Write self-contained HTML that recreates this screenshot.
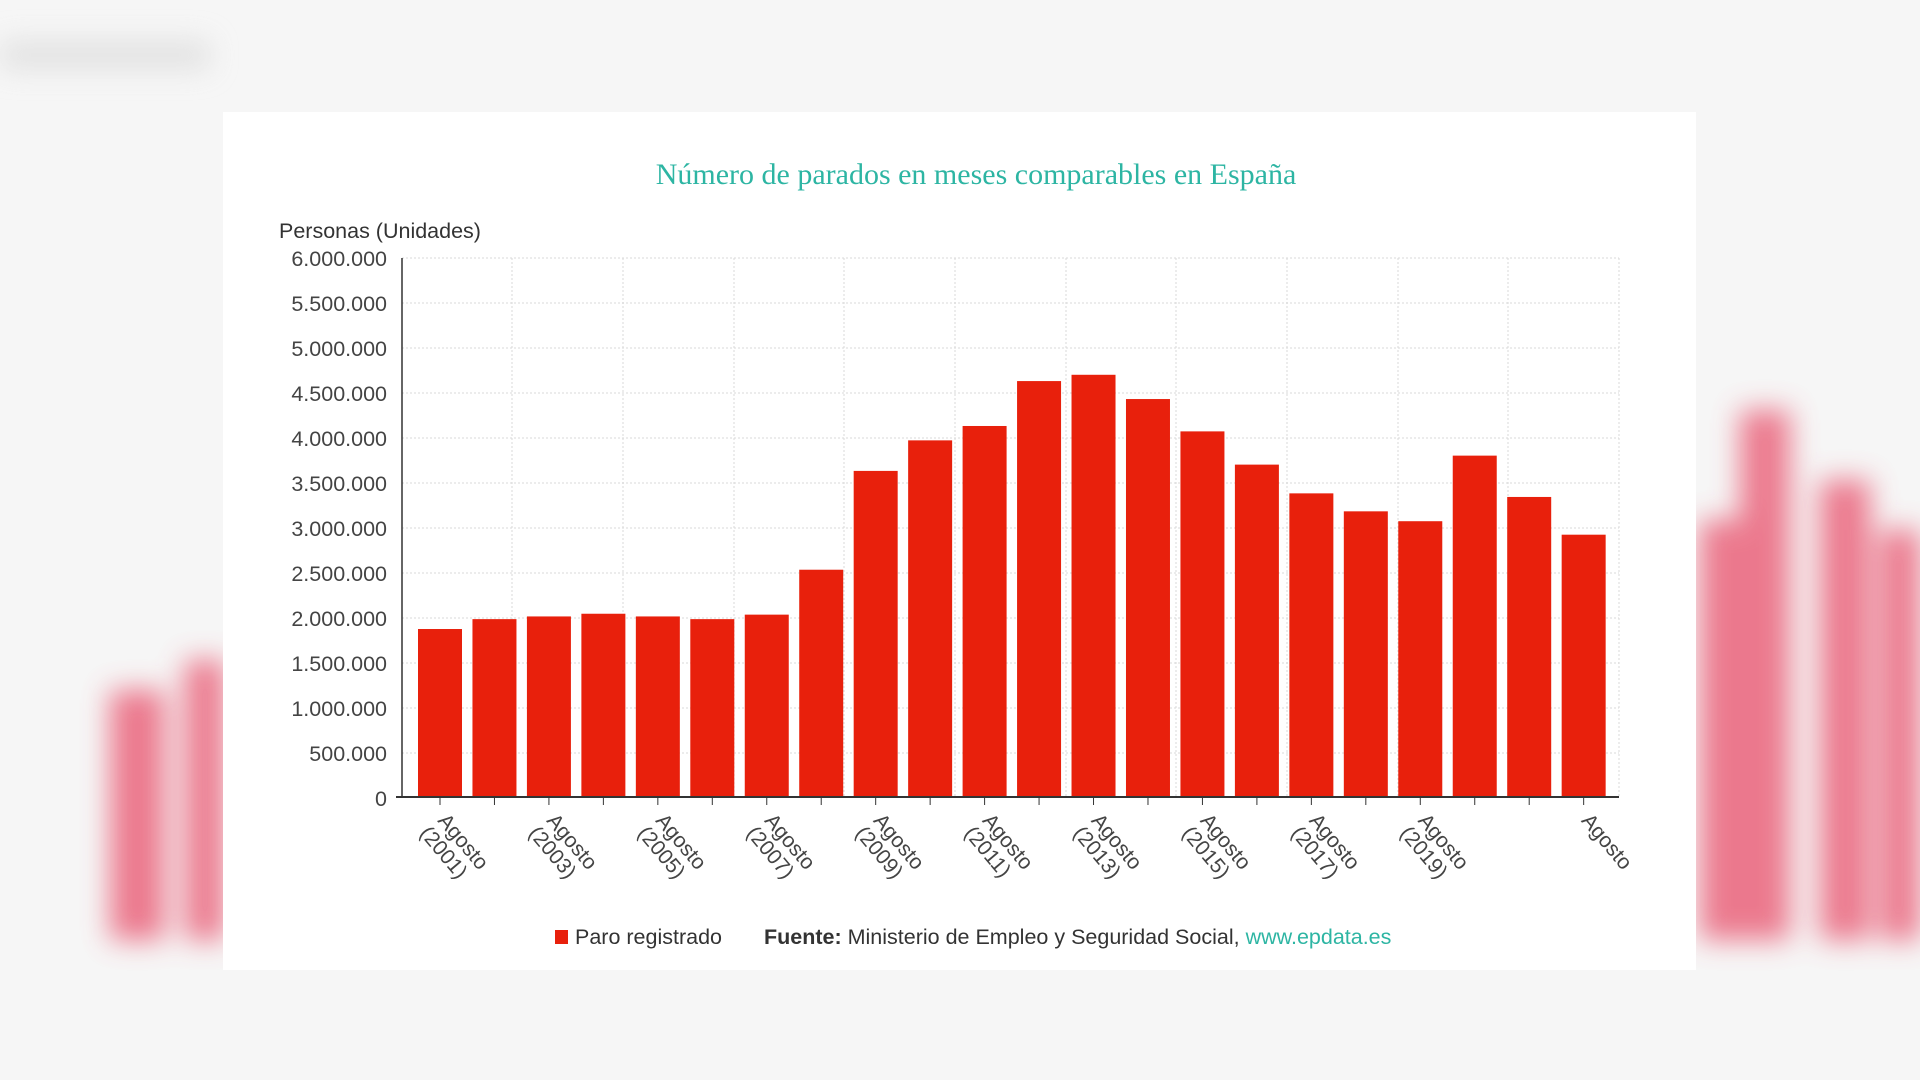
<!DOCTYPE html>
<html><head><meta charset="utf-8"><style>
html,body{margin:0;padding:0;width:1920px;height:1080px;overflow:hidden;background:#f6f6f6;}
svg{display:block}
</style></head><body>
<svg width="1920" height="1080" viewBox="0 0 1920 1080" xmlns="http://www.w3.org/2000/svg" font-family="Liberation Sans, sans-serif">
<defs><filter id="b" x="-50%" y="-50%" width="200%" height="200%"><feGaussianBlur stdDeviation="14"/></filter></defs>
<rect width="1920" height="1080" fill="#f6f6f6"/>
<g filter="url(#b)" opacity="0.75">
<rect x="110" y="690" width="55" height="250" fill="#e8506a"/>
<rect x="185" y="660" width="40" height="280" fill="#e8506a"/>
<rect x="1700" y="520" width="45" height="420" fill="#e8506a"/>
<rect x="1740" y="410" width="50" height="530" fill="#e8506a"/>
<rect x="1820" y="480" width="50" height="460" fill="#e8506a"/>
<rect x="1880" y="530" width="40" height="410" fill="#e8506a"/>
<rect x="0" y="40" width="210" height="30" fill="#dcdcdc"/>
</g>
<rect x="223" y="112" width="1473" height="858" fill="#fff"/>
<text x="976" y="184" text-anchor="middle" font-family="Liberation Serif, serif" font-size="30" fill="#2db5a3">Número de parados en meses comparables en España</text>
<text x="279" y="238" font-size="21.5" fill="#333">Personas (Unidades)</text>
<g stroke="#d8d8d8" stroke-dasharray="2,2" stroke-width="1">
<line x1="402" x2="1619" y1="258" y2="258"/><line x1="402" x2="1619" y1="303" y2="303"/>
<line x1="402" x2="1619" y1="348" y2="348"/><line x1="402" x2="1619" y1="393" y2="393"/>
<line x1="402" x2="1619" y1="438" y2="438"/><line x1="402" x2="1619" y1="483" y2="483"/>
<line x1="402" x2="1619" y1="528" y2="528"/><line x1="402" x2="1619" y1="573" y2="573"/>
<line x1="402" x2="1619" y1="618" y2="618"/><line x1="402" x2="1619" y1="663" y2="663"/>
<line x1="402" x2="1619" y1="708" y2="708"/><line x1="402" x2="1619" y1="753" y2="753"/>
<line x1="512" x2="512" y1="258" y2="797"/><line x1="623" x2="623" y1="258" y2="797"/>
<line x1="734" x2="734" y1="258" y2="797"/><line x1="844" x2="844" y1="258" y2="797"/>
<line x1="955" x2="955" y1="258" y2="797"/><line x1="1066" x2="1066" y1="258" y2="797"/>
<line x1="1176" x2="1176" y1="258" y2="797"/><line x1="1287" x2="1287" y1="258" y2="797"/>
<line x1="1398" x2="1398" y1="258" y2="797"/><line x1="1508" x2="1508" y1="258" y2="797"/>
<line x1="1619" x2="1619" y1="258" y2="797"/>
</g>
<g font-size="21.5" fill="#444" text-anchor="end">
<text x="387" y="266">6.000.000</text><text x="387" y="311">5.500.000</text>
<text x="387" y="356">5.000.000</text><text x="387" y="401">4.500.000</text>
<text x="387" y="446">4.000.000</text><text x="387" y="491">3.500.000</text>
<text x="387" y="536">3.000.000</text><text x="387" y="581">2.500.000</text>
<text x="387" y="626">2.000.000</text><text x="387" y="671">1.500.000</text>
<text x="387" y="716">1.000.000</text><text x="387" y="761">500.000</text>
<text x="387" y="806">0</text>
</g>
<g fill="#e8200c" id="bars"></g>
<line x1="402" x2="402" y1="258" y2="797" stroke="#333" stroke-width="1.5"/>
<line x1="396" x2="1619" y1="797" y2="797" stroke="#333" stroke-width="2"/>
<g id="labels" font-size="21" fill="#444"></g>
<rect x="555" y="930" width="13" height="14" fill="#e8200c"/>
<text x="575" y="944" font-size="21.5" fill="#333">Paro registrado</text>
<text x="764" y="944" font-size="21.5" fill="#333"><tspan font-weight="bold">Fuente:</tspan> Ministerio de Empleo y Seguridad Social, <tspan fill="#2db5a3">www.epdata.es</tspan></text>
<script>
var v=[1.87,1.98,2.01,2.04,2.01,1.98,2.03,2.53,3.63,3.97,4.13,4.63,4.70,4.43,4.07,3.70,3.38,3.18,3.07,3.80,3.34,2.92];
var g=document.getElementById('bars'),L=document.getElementById('labels'),ns='http://www.w3.org/2000/svg';
v.forEach(function(val,i){var x=418+i*54.46,h=val/6*539;var r=document.createElementNS(ns,'rect');
r.setAttribute('x',x);r.setAttribute('y',797-h);r.setAttribute('width',44);r.setAttribute('height',h);g.appendChild(r);
var t=document.createElementNS(ns,'line');t.setAttribute('x1',x+22);t.setAttribute('x2',x+22);t.setAttribute('y1',797);t.setAttribute('y2',805);t.setAttribute('stroke','#333');L.appendChild(t);
var lab=null;if(i%2==0&&i<20)lab=['Agosto','('+(2001+i)+')'];if(i==21)lab=['Agosto'];
if(lab){var tx=document.createElementNS(ns,'text');var cx=x+19,cy=821;tx.setAttribute('transform','translate('+cx+','+cy+') rotate(50)');
lab.forEach(function(s,k){var sp=document.createElementNS(ns,'tspan');sp.setAttribute('x',k*-2);sp.setAttribute('y',k*22);sp.textContent=s;tx.appendChild(sp);});L.appendChild(tx);}
});
</script>
</svg>
</body></html>
